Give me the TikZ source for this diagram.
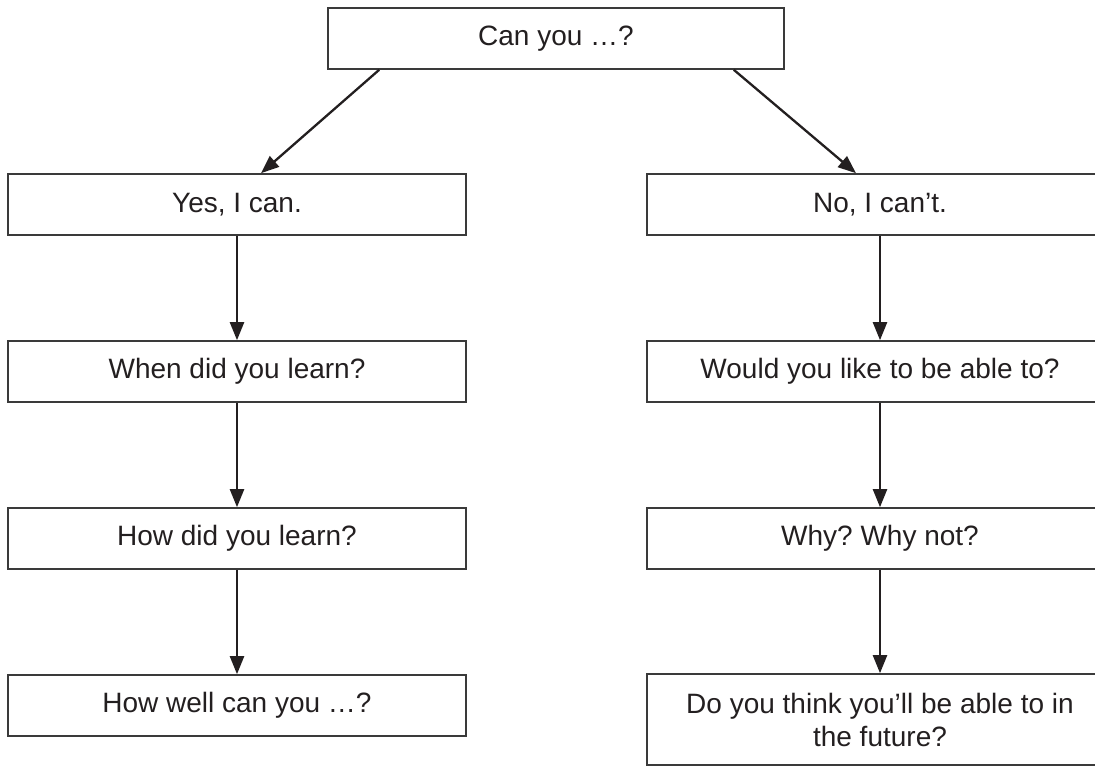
\documentclass[tikz,border=0pt]{standalone}
\usepackage{fontspec}
\setmainfont{Liberation Sans}
\usetikzlibrary{arrows.meta}
\definecolor{boxgray}{HTML}{3A3A3A}
\definecolor{textblack}{HTML}{231F20}
\frenchspacing
\begin{document}
\begin{tikzpicture}[x=1pt,y=-1pt,
  box/.style={draw=boxgray,line width=1.6pt,minimum height=61pt,inner sep=0pt,
    font=\fontsize{28}{33}\selectfont\frenchspacing,text=textblack,align=center},
  lbox/.style={box,minimum width=458pt},
  rbox/.style={box,minimum width=466pt},
  arr/.style={draw=textblack,line width=2.3pt,-{Triangle[length=18pt,width=14pt]}}]
\clip (0,0) rectangle (1095,767);
\fill[white] (0,0) rectangle (1095,767);
\node[box,minimum width=456pt] (top) at (556,38.5) {Can you …?};
\node[lbox] (yes) at (237,204.5) {Yes, I can.};
\node[lbox] (when) at (237,371.5) {When did you learn?};
\node[lbox] (howdid) at (237,538.5) {How did you learn?};
\node[lbox] (howwell) at (237,705.5) {How well can you …?};
\node[rbox] (no) at (880,204.5) {No, I can’t.};
\node[rbox] (would) at (880,371.5) {Would you like to be able to?};
\node[rbox] (why) at (880,538.5) {Why? Why not?};
\node[rbox,minimum height=91pt] (future) at (880,719.5) {Do you think you’ll be able to in\\the future?};
\draw[arr] ([xshift=52pt]top.south west) -- ([xshift=24pt]yes.north);
\draw[arr] ([xshift=-51pt]top.south east) -- ([xshift=-24pt]no.north);
\draw[arr] (yes) -- (when);
\draw[arr] (when) -- (howdid);
\draw[arr] (howdid) -- (howwell);
\draw[arr] (no) -- (would);
\draw[arr] (would) -- (why);
\draw[arr] (why) -- (future);
\end{tikzpicture}
\end{document}
